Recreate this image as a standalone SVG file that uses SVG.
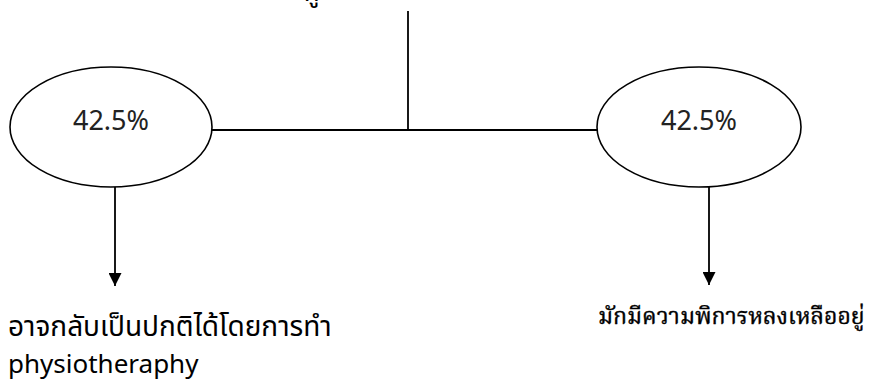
<svg xmlns="http://www.w3.org/2000/svg" width="882" height="387" viewBox="0 0 882 387">
<style>
.shape{fill:#fff;stroke:#000;stroke-width:1.6}
.conn{stroke:#000;stroke-width:1.8;fill:none}
.pct{font-family:"Noto Sans","Open Sans",sans-serif;font-size:27px;fill:#222;text-anchor:middle}
.lbl{font-family:"Noto Sans","Noto Sans Thai",sans-serif;font-size:26px;fill:#000}
.thai{font-size:28px}
.lbl2{font-family:"Liberation Serif","Noto Serif Thai",serif;font-size:23px;fill:#000;stroke:#000;stroke-width:0.4}
</style>
<defs>
<marker id="arr" viewBox="0 0 13 13" refX="13" refY="6.5" markerWidth="13" markerHeight="13" markerUnits="userSpaceOnUse" orient="auto">
<path d="M0,0 L13,6.5 L0,13 Z" fill="#000"/>
</marker>
</defs>
<g id="top-text"><text class="lbl" x="304" y="1">กู</text></g>
<g id="connectors">
<line class="conn" x1="408" y1="11" x2="408" y2="130"/>
<line class="conn" x1="212" y1="130" x2="597" y2="130"/>
<line class="conn" x1="115" y1="187" x2="115" y2="286" marker-end="url(#arr)"/>
<line class="conn" x1="709" y1="187" x2="709" y2="285" marker-end="url(#arr)"/>
</g>
<g id="node-left">
<ellipse class="shape" cx="111" cy="127" rx="101" ry="60"/>
<text class="pct" x="111" y="130">42.5%</text>
</g>
<g id="node-right">
<ellipse class="shape" cx="699" cy="127" rx="102" ry="60"/>
<text class="pct" x="699" y="130">42.5%</text>
</g>
<g id="label-left">
<text class="lbl thai" x="8" y="336">อาจกลับเป็นปกติได้โดยการทำ</text>
<text class="lbl" x="8" y="373">physiotheraphy</text>
</g>
<g id="label-right">
<text class="lbl2" x="598" y="324">มักมีความพิการหลงเหลืออยู่</text>
</g>
</svg>
